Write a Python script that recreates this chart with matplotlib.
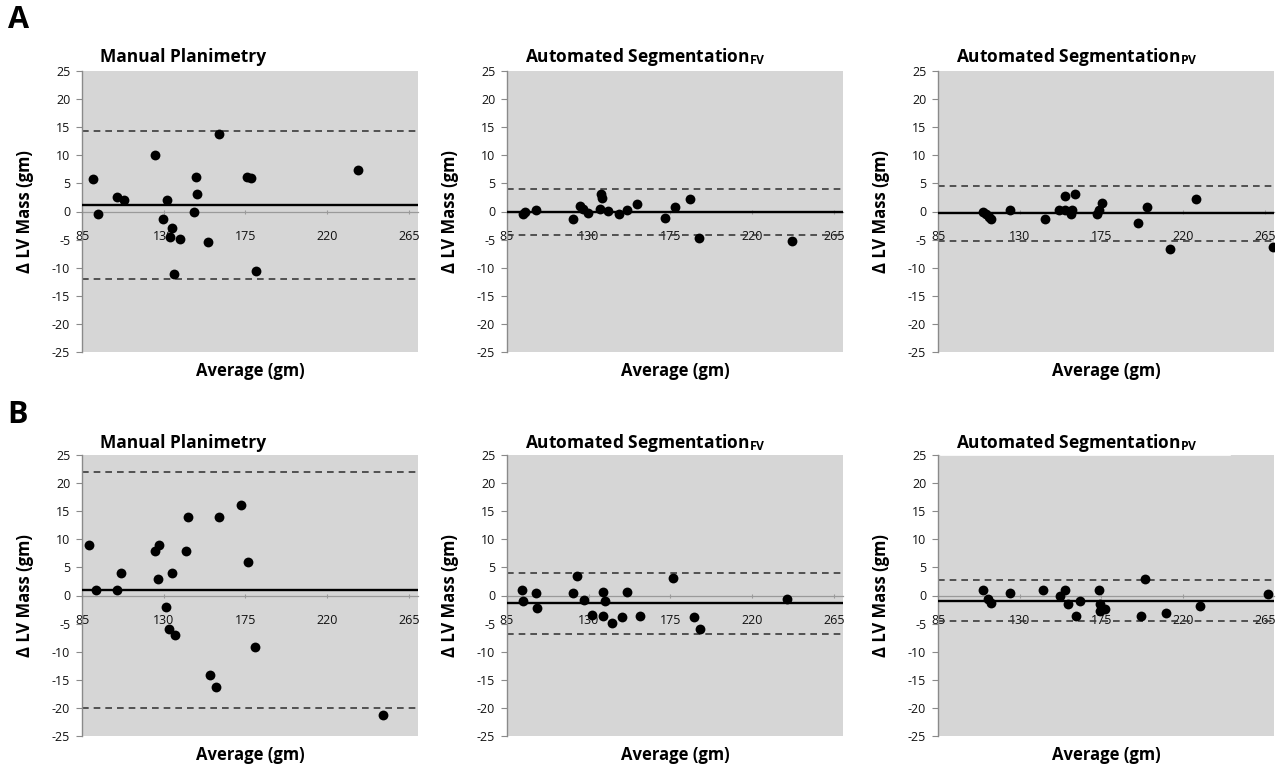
import matplotlib
matplotlib.use("Agg")
import matplotlib.pyplot as plt

plt.rcParams['font.family'] = ['Open Sans', 'DejaVu Sans']
plt.rcParams['mathtext.fontset'] = 'custom'
plt.rcParams['mathtext.rm'] = 'Open Sans'
plt.rcParams['mathtext.bf'] = 'Open Sans:bold'
plt.rcParams['mathtext.it'] = 'Open Sans:italic'

# ---------------- data ----------------
x_ticks = [85, 130, 175, 220, 265]
y_ticks = [25, 20, 15, 10, 5, 0, -5, -10, -15, -20, -25]

titles = ["Manual Planimetry",
          r"Automated Segmentation$_{\mathbf{FV}}$",
          r"Automated Segmentation$_{\mathbf{PV}}$"]
panel_letters = ["A", "B"]

# Panel A - Manual Planimetry
a1_x = [91, 94, 104, 108, 125, 132, 129.5, 134.5, 133.5, 139, 135.5, 148, 148.5, 146.5, 154.5, 160.5, 176, 178, 181, 237]
a1_y = [5.8, -0.5, 2.5, 2.1, 10.0, 2.1, -1.4, -2.9, -4.6, -4.9, -11.2, 6.2, 3.2, 0.0, -5.5, 13.8, 6.2, 6.0, -10.5, 7.3]
a1_lines = [1.2, 14.4, -12.0]   # bias, upper LoA, lower LoA

# Panel A - Automated Segmentation FV
a2_x = [94, 95, 101, 121.5, 125, 127, 129.5, 137, 137.5, 136, 140.5, 146.5, 151, 156.5, 172, 177.5, 185.5, 190.5, 242]
a2_y = [-0.4, 0.0, 0.3, -1.3, 0.9, 0.5, -0.3, 3.2, 2.4, 0.5, 0.1, -0.4, 0.2, 1.4, -1.1, 0.8, 2.2, -4.7, -5.3]
a2_lines = [-0.1, 4.0, -4.2]

# Panel A - Automated Segmentation PV
a3_x = [110, 111.5, 113.3, 114.2, 124.7, 143.8, 151.5, 154.9, 155.2, 158.9, 158.5, 160.7, 172.4, 173.7, 175.1, 195.2, 200.3, 212.7, 227, 269.5]
a3_y = [-0.1, -0.4, -1.0, -1.3, 0.35, -1.3, 0.3, 2.8, 0.3, 0.3, -0.4, 3.2, -0.4, 0.3, 1.5, -2.1, 0.8, -6.6, 2.2, -6.3]
a3_lines = [-0.3, 4.6, -5.2]

# Panel B - Manual Planimetry
b1_x = [88.7, 92.9, 104.3, 106.5, 125, 127.5, 126.7, 131.5, 133, 136, 134.6, 142.5, 143.5, 155.7, 159, 160.3, 172.3, 176.3, 180.2, 251]
b1_y = [9.0, 1.0, 1.0, 4.0, 8.0, 9.0, 3.0, -2.0, -6.0, -7.0, 4.0, 8.0, 14.0, -14.2, -16.2, 14.0, 16.1, 5.9, -9.2, -21.2]
b1_lines = [1.0, 22.0, -20.0]

# Panel B - Automated Segmentation FV
b2_x = [93.5, 93.8, 101.2, 101.6, 121.1, 123.7, 127.4, 131.6, 137.7, 139, 138, 143, 148.2, 150.9, 158.3, 176.2, 188.1, 191.1, 239.3]
b2_y = [1.0, -1.0, 0.5, -2.2, 0.5, 3.5, -0.8, -3.5, 0.7, -1.0, -3.7, -4.9, -3.8, 0.7, -3.7, 3.2, -3.8, -6.0, -0.7]
b2_lines = [-1.4, 4.0, -6.8]

# Panel B - Automated Segmentation PV
b3_x = [110, 112.4, 114.2, 124.7, 142.9, 152.1, 154.9, 156.7, 160.8, 163.2, 173.7, 174.3, 174.3, 177.1, 197, 199.2, 210.7, 229.2, 266.7]
b3_y = [0.9, -0.6, -1.3, 0.4, 0.9, 0.0, 0.9, -1.5, -3.6, -0.9, 0.9, -1.6, -2.7, -2.4, -3.6, 3.0, -3.2, -1.9, 0.2]
b3_lines = [-0.9, 2.7, -4.5]

panels = [[(a1_x, a1_y, a1_lines), (a2_x, a2_y, a2_lines), (a3_x, a3_y, a3_lines)],
          [(b1_x, b1_y, b1_lines), (b2_x, b2_y, b2_lines), (b3_x, b3_y, b3_lines)]]

# ---------------- layout ----------------
W, H = 1283, 767
fig = plt.figure(figsize=(W / 100, H / 100), dpi=100)
fig.patch.set_facecolor('white')

col_left = [82, 507, 938]
row_top = [71, 455]
ax_w, ax_h = 336, 281

bg = '#d6d6d6'

for r in range(2):
    for c in range(3):
        xs, ys, (bias, up, lo) = panels[r][c]
        l = col_left[c]
        t = row_top[r]
        ax = fig.add_axes([l / W, 1 - (t + ax_h) / H, ax_w / W, ax_h / H])
        ax.set_facecolor(bg)
        ax.set_xlim(85, 270)
        ax.set_ylim(-25, 25)
        for s in ['top', 'right']:
            ax.spines[s].set_visible(False)
        ax.spines['left'].set_color('#8a8a8a')
        ax.spines['left'].set_linewidth(1.0)
        ax.spines['bottom'].set_position(('data', 0))
        ax.spines['bottom'].set_color('#9a9a9a')
        ax.spines['bottom'].set_linewidth(0.9)
        ax.spines['bottom'].set_zorder(1)

        ax.set_yticks(y_ticks)
        ax.set_yticklabels([str(v) for v in y_ticks])
        ax.set_xticks(x_ticks)
        ax.set_xticklabels([str(v) for v in x_ticks])
        ax.tick_params(axis='y', direction='out', length=4.5, width=0.8,
                       color='#8a8a8a', labelsize=9, pad=4, labelcolor='#111111')
        ax.tick_params(axis='x', direction='inout', length=3, width=0.8,
                       color='#9a9a9a', labelsize=9, pad=12, labelcolor='#111111')

        # limits of agreement and mean bias
        ax.axhline(up, color='#3a3a3a', lw=1.2, ls=(0, (4, 3)), zorder=2)
        ax.axhline(lo, color='#3a3a3a', lw=1.2, ls=(0, (4, 3)), zorder=2)
        ax.axhline(bias, color='black', lw=1.7, zorder=3)

        ax.scatter(xs, ys, s=50, color='black', zorder=4, linewidths=0)

        ax.set_xlabel('Average (gm)', fontsize=12, fontweight='bold')
        ax.xaxis.label.set_va('center')
        ax.xaxis.set_label_coords(0.5, -19 / ax_h)
        ax.set_ylabel('Δ LV Mass (gm)', fontsize=12, fontweight='bold')
        ax.yaxis.label.set_va('center')
        ax.yaxis.set_label_coords(-57 / ax_w, 0.5)

        ttl_y = t - (14 if r == 0 else 12)
        fig.text((l + 18) / W, 1 - ttl_y / H, titles[c], fontsize=12.5,
                 fontweight='bold', ha='left', va='center')

        if r == 1 and c == 2:
            ax.plot([0.01, 0.87], [1.0, 1.0], transform=ax.transAxes,
                    color='white', lw=1.2, clip_on=False, zorder=5)

fig.text(18 / W, 1 - 20 / H, panel_letters[0], fontsize=22, fontweight='bold',
         ha='center', va='center')
fig.text(18 / W, 1 - 415 / H, panel_letters[1], fontsize=22, fontweight='bold',
         ha='center', va='center')

fig.savefig('out.png', dpi=100, facecolor='white')
